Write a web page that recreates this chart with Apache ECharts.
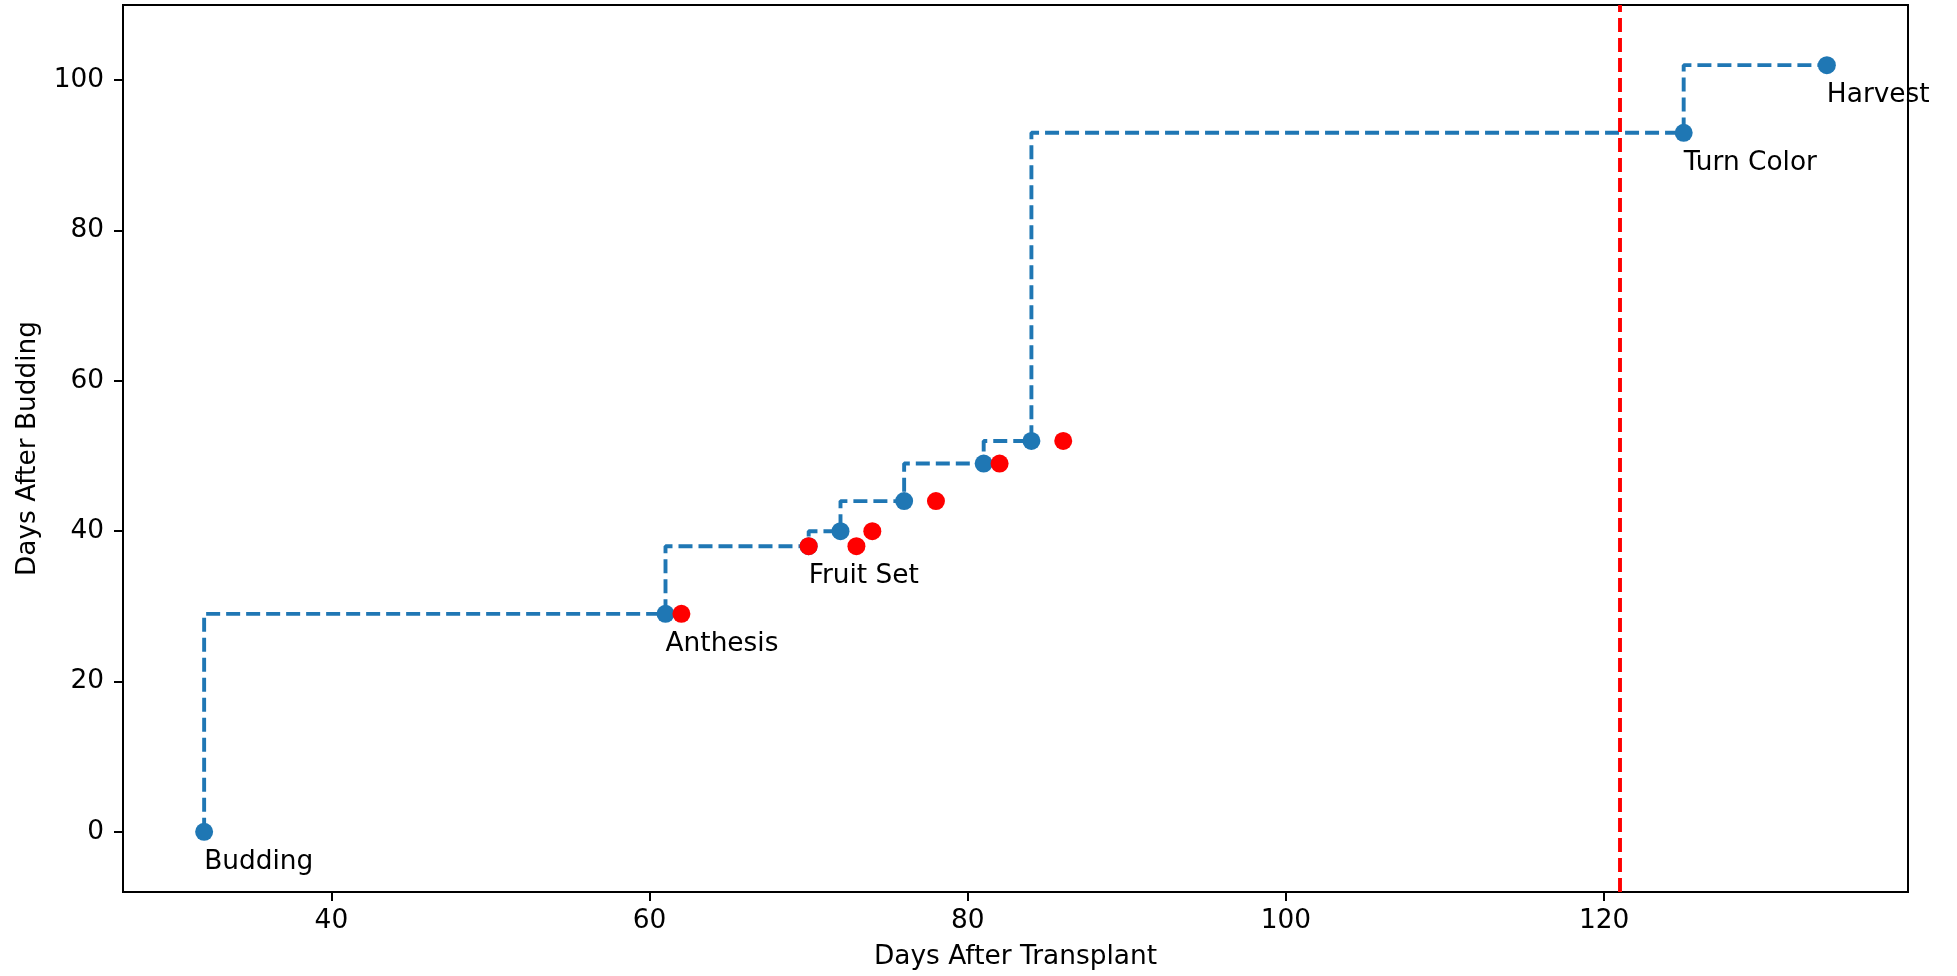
<!DOCTYPE html>
<html>
<head>
<meta charset="utf-8">
<script src="https://cdn.jsdelivr.net/npm/echarts@6/dist/echarts.min.js"></script>
<style>
html,body{margin:0;padding:0;background:#fff;}
#chart{width:1957px;height:976px;}
</style>
</head>
<body>
<div id="chart"></div>
<script>
// Stage progression (step line, blue)
const stepX = [32, 61, 70, 72, 76, 81, 84, 125, 134];
const stepY = [0, 29, 38, 40, 44, 49, 52, 93, 102];
const stageNames = ['Budding', 'Anthesis', 'Fruit Set', '', '', '', '', 'Turn Color', 'Harvest'];
// Red observation points
const redX = [62, 70, 73, 74, 78, 82, 86];
const redY = [29, 38, 38, 40, 44, 49, 52];
// Vertical reference line
const refLineX = 121;
// Axes
const xTicks = [40, 60, 80, 100, 120];
const yTicks = [0, 20, 40, 60, 80, 100];
const xRange = [26.9, 139.1];
const yRange = [-8, 110];
const xTitle = 'Days After Transplant';
const yTitle = 'Days After Budding';

const FONT = 'DejaVu Sans';
const FS = 26.4;

const chart = echarts.init(document.getElementById('chart'), null, {renderer: 'canvas'});

const blueData = stepX.map((x, i) => {
  const item = {value: [x, stepY[i]]};
  if (stageNames[i]) {
    item.label = {
      show: true,
      formatter: stageNames[i],
      position: 'bottom',
      align: 'left',
      distance: 8,
      color: '#000',
      fontFamily: FONT,
      fontSize: FS
    };
  }
  return item;
});

const option = {
  animation: false,
  backgroundColor: '#fff',
  grid: {
    left: 123, right: 49, top: 5, bottom: 84,
    show: true, borderColor: '#000', borderWidth: 2, backgroundColor: 'transparent'
  },
  xAxis: {
    type: 'value',
    min: xRange[0], max: xRange[1],
    name: xTitle,
    nameLocation: 'middle',
    nameGap: 52,
    nameTextStyle: {color: '#000', fontFamily: FONT, fontSize: FS},
    splitLine: {show: false},
    axisLine: {show: true, onZero: false, lineStyle: {color: '#000', width: 2}},
    axisTick: {show: true, inside: false, length: 9, lineStyle: {color: '#000', width: 2}, customValues: xTicks},
    axisLabel: {color: '#000', fontFamily: FONT, fontSize: FS, margin: 16, customValues: xTicks}
  },
  yAxis: {
    type: 'value',
    min: yRange[0], max: yRange[1],
    name: yTitle,
    nameLocation: 'middle',
    nameGap: 82,
    nameRotate: 90,
    nameTextStyle: {color: '#000', fontFamily: FONT, fontSize: FS},
    splitLine: {show: false},
    axisLine: {show: true, onZero: false, lineStyle: {color: '#000', width: 2}},
    axisTick: {show: true, inside: false, length: 9, lineStyle: {color: '#000', width: 2}, customValues: yTicks},
    axisLabel: {color: '#000', fontFamily: FONT, fontSize: FS, margin: 19, customValues: yTicks}
  },
  series: [
    {
      type: 'line',
      step: 'start',
      data: blueData,
      symbol: 'circle',
      symbolSize: 18,
      showAllSymbol: true,
      clip: false,
      itemStyle: {color: '#1f77b4'},
      lineStyle: {color: '#1f77b4', width: 3.9, type: [14, 6]},
      emphasis: {disabled: true},
      markLine: {
        silent: true,
        symbol: ['none', 'none'],
        label: {show: false},
        lineStyle: {color: '#ff0000', width: 3.9, type: [14, 6]},
        data: [{xAxis: refLineX}]
      },
      z: 2
    },
    {
      type: 'scatter',
      data: redX.map((x, i) => [x, redY[i]]),
      symbol: 'circle',
      symbolSize: 18,
      itemStyle: {color: '#ff0000', opacity: 1},
      emphasis: {disabled: true},
      z: 3
    }
  ]
};
chart.setOption(option);
</script>
</body>
</html>
